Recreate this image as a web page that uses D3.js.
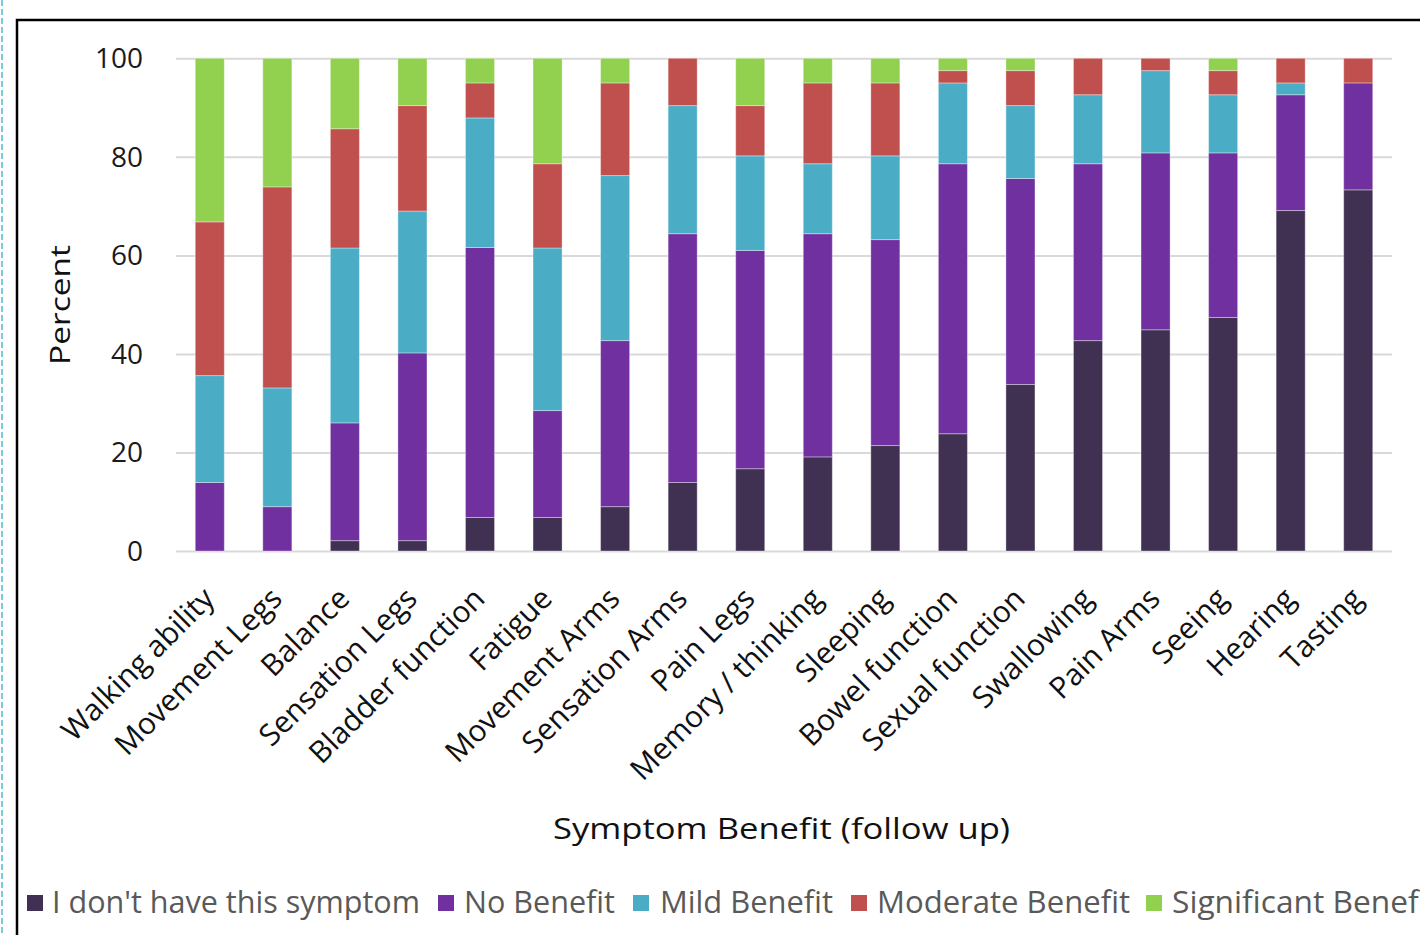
<!DOCTYPE html>
<html>
<head>
<meta charset="utf-8">
<script src="https://cdn.jsdelivr.net/npm/d3@7"></script>
<style>
    html, body { margin: 0; padding: 0; background: #fff; }
    svg { display: block; font-family: 'Open Sans', sans-serif; }
</style>
</head>
<body>
<svg id="chart"></svg>
<script>
const categories = [
    'Walking ability', 'Movement Legs', 'Balance', 'Sensation Legs', 'Bladder function',
    'Fatigue', 'Movement Arms', 'Sensation Arms', 'Pain Legs', 'Memory / thinking',
    'Sleeping', 'Bowel function', 'Sexual function', 'Swallowing', 'Pain Arms',
    'Seeing', 'Hearing', 'Tasting',
]

const seriesNames = ['I don\'t have this symptom', 'No Benefit', 'Mild Benefit', 'Moderate Benefit', 'Significant Benefit']

// percent per category
const dontHave    = [0, 0, 2.1, 2.1, 6.8, 6.8, 9.0, 13.9, 16.7, 19.1, 21.4, 23.8, 33.8, 42.7, 44.9, 47.4, 69.1, 73.3]
const noBenefit   = [13.9, 9.0, 23.9, 38.1, 54.8, 21.7, 33.7, 50.5, 44.3, 45.3, 41.8, 54.8, 41.8, 35.9, 35.9, 33.4, 23.5, 21.7]
const mild        = [21.7, 24.1, 35.5, 28.8, 26.3, 33.0, 33.5, 26.0, 19.2, 14.2, 17.0, 16.4, 14.8, 14.0, 16.7, 11.8, 2.4, 0]
const moderate    = [31.2, 40.8, 24.2, 21.4, 7.1, 17.1, 18.8, 9.6, 10.2, 16.4, 14.8, 2.5, 7.1, 7.4, 2.5, 4.9, 5.0, 5.0]
const significant = [33.2, 26.1, 14.3, 9.6, 5.0, 21.4, 5.0, 0, 9.6, 5.0, 5.0, 2.5, 2.5, 0, 0, 2.5, 0, 0]

const yTicks = [0, 20, 40, 60, 80, 100]
const colors = ['#403152', '#7030a0', '#4bacc6', '#c0504d', '#92d050']

const width = 1420
const height = 935

const table = categories.map((name, i) => ({
    name,
    s0: dontHave[i],
    s1: noBenefit[i],
    s2: mild[i],
    s3: moderate[i],
    s4: significant[i],
}))
const keys = ['s0', 's1', 's2', 's3', 's4']

const svg = d3.select('#chart')
    .attr('width', width)
    .attr('height', height)
    .attr('viewBox', [0, 0, width, height].join(' '))

// frame bits from the surrounding document
svg.append('line')
    .attr('x1', 2).attr('x2', 2)
    .attr('y1', 0).attr('y2', height)
    .attr('stroke', '#4fb9d2')
    .attr('stroke-width', 1.5)
    .attr('stroke-dasharray', '6,3')

svg.append('path')
    .attr('d', `M17,${height}V20H${width}`)
    .attr('fill', 'none')
    .attr('stroke', '#000')
    .attr('stroke-width', 2.5)

const x = d3.scaleBand()
    .domain(categories)
    .range([176, 1392])
    .paddingInner(0.57)
    .paddingOuter(0.285)

const y = d3.scaleLinear()
    .domain([0, 100])
    .range([551, 58.3])

// gridlines
const grid = svg.append('g')
    .attr('transform', 'translate(176,0)')
    .call(d3.axisLeft(y).tickValues(yTicks).tickSize(-(1392 - 176)).tickFormat(''))
grid.select('.domain').remove()
grid.selectAll('line').attr('stroke', '#d9d9d9').attr('stroke-width', 2)

// y tick labels
svg.append('g')
    .selectAll('text')
    .data(yTicks)
    .join('text')
    .attr('x', 143)
    .attr('y', d => y(d))
    .attr('dy', '0.35em')
    .attr('text-anchor', 'end')
    .attr('font-size', 28)
    .attr('fill', '#1a1a1a')
    .text(d => d)

// stacked bars
const stacked = d3.stack().keys(keys)(table)

svg.append('g')
    .selectAll('g')
    .data(stacked)
    .join('g')
    .attr('fill', (d, i) => colors[i])
    .selectAll('rect')
    .data(d => d)
    .join('rect')
    .attr('x', d => x(d.data.name))
    .attr('width', x.bandwidth())
    .attr('y', d => y(d[1]))
    .attr('height', d => y(d[0]) - y(d[1]))
    .attr('stroke', '#fff')
    .attr('stroke-opacity', 0.35)
    .attr('stroke-width', 1)

// x labels, rotated
svg.append('g')
    .selectAll('text')
    .data(categories)
    .join('text')
    .attr('transform', d => `translate(${x(d) + x.bandwidth() / 2 - 1},593) rotate(-45)`)
    .attr('text-anchor', 'end')
    .attr('dy', '0.35em')
    .attr('font-size', 30)
    .attr('fill', '#111')
    .text(d => d)

// axis titles
svg.append('text')
    .attr('x', 553)
    .attr('y', 839)
    .attr('font-size', 30)
    .attr('fill', '#111')
    .attr('textLength', 457)
    .attr('lengthAdjust', 'spacingAndGlyphs')
    .text('Symptom Benefit (follow up)')

svg.append('text')
    .attr('transform', 'translate(70,365) rotate(-90)')
    .attr('font-size', 28)
    .attr('fill', '#111')
    .attr('textLength', 120)
    .attr('lengthAdjust', 'spacingAndGlyphs')
    .text('Percent')

// legend (last entry runs past the right edge, as in the source)
const legendPos = [
    { sx: 27, tx: 52, w: 368 },
    { sx: 438, tx: 464, w: 151 },
    { sx: 633, tx: 660, w: 173 },
    { sx: 851, tx: 877, w: 253 },
    { sx: 1146, tx: 1172, w: 266 },
]

const legend = svg.append('g')
    .selectAll('g')
    .data(seriesNames)
    .join('g')

legend.append('rect')
    .attr('x', (d, i) => legendPos[i].sx)
    .attr('y', 895)
    .attr('width', 16)
    .attr('height', 16)
    .attr('fill', (d, i) => colors[i])

legend.append('text')
    .attr('x', (d, i) => legendPos[i].tx)
    .attr('y', 913)
    .attr('font-size', 31)
    .attr('fill', '#595959')
    .attr('textLength', (d, i) => legendPos[i].w)
    .attr('lengthAdjust', 'spacingAndGlyphs')
    .text(d => d)
</script>
</body>
</html>
